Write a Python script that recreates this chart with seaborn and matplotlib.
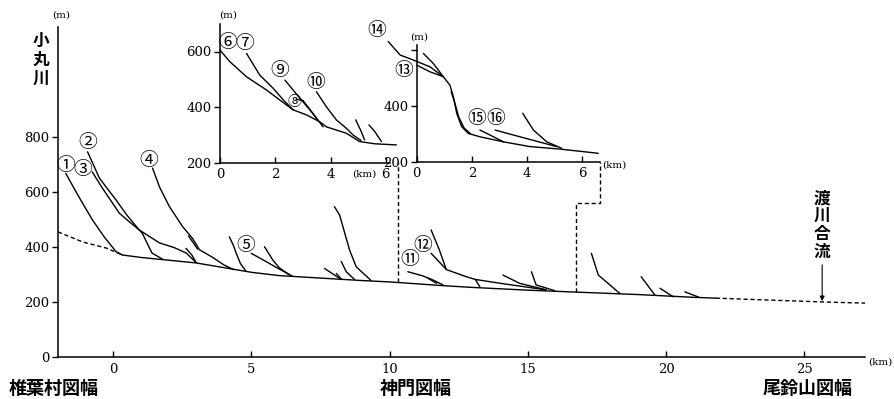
import matplotlib
matplotlib.use("Agg")
import matplotlib.pyplot as plt
import seaborn as sns

# ---------------- data (km, m) ----------------
# main stream 小丸川
main_km = [0.33, 1, 2, 3, 4, 5, 6, 7, 8, 9, 10, 11, 12, 13, 14, 15, 16, 17, 18, 19, 20, 21, 21.8]
main_m = [371, 362, 352, 342, 325, 308, 296, 290, 284, 278, 273, 266, 259, 253, 248, 243, 239, 235, 231, 227, 222, 217, 214]
upper_km = [-2, -1.1, -0.25, 0.33]
upper_m = [455, 418, 396, 371]
lower_km = [21.8, 25.7, 27.2]
lower_m = [214, 200, 196]

# tributaries on main chart
t1_km = [-1.72, -1.4, -1.11, -0.75, -0.33, 0.1, 0.33]
t1_m = [668, 610, 559, 498, 437, 383, 371]
t2_km = [-0.93, -0.5, 0.1, 0.5, 0.94, 1.05, 1.4, 1.78]
t2_m = [746, 650, 571, 515, 462, 450, 378, 356]
t3_km = [-0.76, -0.4, 0.22, 0.6, 0.94, 1.67, 2.2, 2.64, 3.0]
t3_m = [673, 615, 523, 490, 462, 415, 398, 378, 343]
t4_km = [1.42, 1.67, 2.03, 2.51, 2.87, 3.12, 3.6, 4.0, 4.35]
t4_m = [687, 619, 547, 474, 431, 390, 362, 335, 318]
s1_km = [2.63, 2.85, 3.0]
s1_m = [395, 370, 343]
s2_km = [2.72, 2.9, 3.05]
s2_m = [440, 415, 392]
t5a_km = [4.2, 4.35, 4.45, 4.6, 4.8]
t5a_m = [437, 405, 377, 340, 312]
t5_km = [4.99, 5.53, 6.0, 6.5]
t5_m = [377, 347, 320, 293]
t5b_km = [5.47, 5.77, 6.0, 6.38]
t5b_m = [401, 353, 325, 298]
t6_km = [8.0, 8.19, 8.55, 8.79, 9.33]
t6_m = [547, 516, 389, 328, 278]
s3_km = [7.64, 8.25]
s3_m = [322, 282]
s4_km = [8.25, 8.43, 8.73]
s4_m = [347, 310, 282]
s5_km = [8.07, 8.25]
s5_m = [304, 283]
t11_km = [10.66, 11.2, 11.57, 11.93]
t11_m = [310, 295, 280, 262]
s6_km = [11.39, 11.7]
s6_m = [286, 268]
t12a_km = [11.5, 11.8, 12.05]
t12a_m = [462, 389, 318]
t12_km = [11.5, 11.8, 12.05, 12.77, 13.1, 14.0, 14.7, 15.67]
t12_m = [377, 345, 318, 292, 282, 268, 258, 244]
s7_km = [13.1, 13.26]
s7_m = [282, 256]
t13_km = [14.1, 14.7, 15.67]
t13_m = [298, 268, 244]
t14_km = [15.13, 15.3, 15.98]
t14_m = [310, 262, 241]
t15_km = [17.3, 17.55, 18.33]
t15_m = [377, 298, 231]
t16_km = [19.1, 19.6]
t16_m = [292, 225]
t17_km = [19.78, 20.26]
t17_m = [250, 219]
t18_km = [20.68, 21.2]
t18_m = [237, 217]

# inset 1 (⑥〜⑩)
i1_main_km = [0, 0.36, 0.96, 1.69, 2.17, 2.65, 3.13, 3.61, 3.85, 4.57, 5.05, 5.6, 6.38]
i1_main_m = [605, 563, 509, 461, 425, 390, 372, 347, 329, 306, 276, 268, 264]
i1_t7_km = [0.96, 1.44, 1.92, 2.29, 2.65]
i1_t7_m = [593, 515, 468, 426, 390]
i1_t8_km = [2.75, 3.0, 3.25, 3.55]
i1_t8_m = [428, 424, 392, 352]
i1_t9_km = [2.35, 2.89, 3.25, 3.49, 3.73]
i1_t9_m = [497, 432, 390, 360, 329]
i1_t10_km = [3.49, 3.85, 4.21, 4.57, 4.81, 5.1]
i1_t10_m = [455, 401, 354, 324, 300, 280]
i1_s1_km = [4.91, 5.11, 5.23]
i1_s1_m = [354, 312, 282]
i1_s2_km = [5.39, 5.6, 5.84]
i1_s2_m = [336, 312, 276]

# inset 2 (⑬〜⑯)
i2_main_km = [0.96, 1.2, 1.33, 1.45, 1.63, 1.87, 2.29, 3.14, 4.1, 5.2, 6.58]
i2_main_m = [504, 474, 432, 373, 325, 301, 289, 271, 254, 245, 230]
i2_t14_km = [-1.03, -0.6, -0.12, 0.48, 0.96]
i2_t14_m = [629, 581, 563, 539, 504]
i2_t13_km = [0, 0.48, 0.96]
i2_t13_m = [545, 521, 504]
i2_t0_km = [0.24, 0.6, 0.96]
i2_t0_m = [587, 551, 504]
i2_d_km = [1.25, 1.38, 1.52, 1.72, 1.95]
i2_d_m = [450, 410, 360, 320, 300]
i2_t15_km = [2.29, 2.66, 3.14]
i2_t15_m = [313, 295, 271]
i2_t16_km = [2.84, 3.74, 5.07]
i2_t16_m = [313, 289, 254]
i2_s1_km = [3.84, 4.23, 4.71, 5.25]
i2_s1_m = [373, 313, 271, 248]

# connector lines to insets
conn1_km = [10.3, 10.3]
conn1_m = [273, 709]
conn2_km = [16.74, 16.74, 17.62, 17.62]
conn2_m = [236, 560, 560, 709]

main_xticks = [0, 5, 10, 15, 20, 25]
main_yticks = [0, 200, 400, 600, 800]
inset_xticks = [0, 2, 4, 6]
inset_yticks = [200, 400, 600]

# ---------------- style ----------------
sns.set_style("ticks")
plt.rcParams["font.family"] = ["DejaVu Serif"]
JP = ["Noto Sans CJK JP", "DejaVu Sans"]

W, H = 894, 399
fig = plt.figure(figsize=(W / 100, H / 100), dpi=100)


def fx(px):
    return px / W


def fy(py):
    return 1 - py / H


LW = 1.0
DASH = (0, (3, 2))


def draw(ax, xs, ys, ls="-", clip=True):
    sns.lineplot(x=xs, y=ys, ax=ax, sort=False, estimator=None, color="black",
                 lw=LW, linestyle=ls, clip_on=clip)


def style_axes(ax):
    for s in ["top", "right"]:
        ax.spines[s].set_visible(False)
    for s in ["left", "bottom"]:
        ax.spines[s].set_linewidth(1.1)
        ax.spines[s].set_color("black")
    ax.set_facecolor("none")
    ax.tick_params(axis="y", direction="out", length=4, width=1, pad=2, labelsize=9.5, colors="black")
    ax.tick_params(axis="x", direction="in", length=4, width=1, pad=4, labelsize=9.5, colors="black")
    ax.set_xlabel("")
    ax.set_ylabel("")


# ---------------- main axes ----------------
ax = fig.add_axes([fx(58), fy(357), (865 - 58) / W, (357 - 27) / H])
draw(ax, main_km, main_m)
draw(ax, upper_km, upper_m, DASH)
draw(ax, lower_km, lower_m, DASH)
for xs, ys in [(t1_km, t1_m), (t2_km, t2_m), (t3_km, t3_m), (t4_km, t4_m),
               (s1_km, s1_m), (s2_km, s2_m), (t5a_km, t5a_m), (t5_km, t5_m),
               (t5b_km, t5b_m), (t6_km, t6_m), (s3_km, s3_m), (s4_km, s4_m),
               (s5_km, s5_m), (t11_km, t11_m), (s6_km, s6_m), (t12a_km, t12a_m),
               (t12_km, t12_m), (s7_km, s7_m), (t13_km, t13_m), (t14_km, t14_m),
               (t15_km, t15_m), (t16_km, t16_m), (t17_km, t17_m), (t18_km, t18_m)]:
    draw(ax, xs, ys)
draw(ax, conn1_km, conn1_m, DASH)
draw(ax, conn2_km, conn2_m, DASH)
ax.set_xlim(-2, 27.2)
ax.set_ylim(0, 1200)
ax.set_xticks(main_xticks)
ax.set_yticks(main_yticks)
style_axes(ax)

CFS = 13.5
circ = dict(family=JP, ha="center", va="center", fontsize=CFS, color="black")
for lab, x, y in [("①", -1.72, 698), ("②", -0.93, 779), ("③", -1.11, 680),
                  ("④", 1.3, 716), ("⑤", 4.81, 407), ("⑪", 10.72, 353), ("⑫", 11.2, 407)]:
    ax.text(x, y, lab, **circ)

ax.annotate("", xy=(25.65, 203), xytext=(25.65, 335),
            arrowprops=dict(arrowstyle="-|>", lw=0.8, color="black", mutation_scale=7,
                            shrinkA=0, shrinkB=0))

# ---------------- inset 1 ----------------
a1 = fig.add_axes([fx(220), fy(162.7), 6.45 * 27.64 / W, 500 * 0.278 / H])
for xs, ys in [(i1_main_km, i1_main_m), (i1_t7_km, i1_t7_m), (i1_t8_km, i1_t8_m),
               (i1_t9_km, i1_t9_m), (i1_t10_km, i1_t10_m), (i1_s1_km, i1_s1_m),
               (i1_s2_km, i1_s2_m)]:
    draw(a1, xs, ys, clip=False)
a1.set_xlim(0, 6.45)
a1.set_ylim(200, 700)
a1.set_xticks(inset_xticks)
a1.set_yticks(inset_yticks)
style_axes(a1)
a1.spines["bottom"].set_bounds(0, 6.15)
for lab, x, y, fs in [("⑥", 0.29, 634, CFS), ("⑦", 0.9, 627, CFS), ("⑨", 2.17, 533, CFS),
                      ("⑩", 3.47, 487, CFS), ("⑧", 2.71, 418, 10)]:
    a1.text(x, y, lab, family=JP, ha="center", va="center", fontsize=fs, color="black")

# ---------------- inset 2 ----------------
a2 = fig.add_axes([fx(416.7), fy(161.7), 6.65 * 27.6 / W, 415 * 0.28 / H])
for xs, ys in [(i2_main_km, i2_main_m), (i2_t14_km, i2_t14_m), (i2_t13_km, i2_t13_m),
               (i2_t0_km, i2_t0_m), (i2_d_km, i2_d_m), (i2_t15_km, i2_t15_m),
               (i2_t16_km, i2_t16_m), (i2_s1_km, i2_s1_m)]:
    draw(a2, xs, ys, clip=False)
a2.set_xlim(0, 6.65)
a2.set_ylim(200, 615)
a2.set_xticks(inset_xticks)
a2.set_yticks(inset_yticks)
a2.set_yticklabels(["200", "400", ""])
style_axes(a2)
for lab, x, y in [("⑬", -0.48, 525), ("⑭", -1.45, 670), ("⑮", 2.17, 355), ("⑯", 2.87, 356)]:
    a2.text(x, y, lab, family=JP, ha="center", va="center", fontsize=CFS, color="black",
            clip_on=False)

# ---------------- unit labels ----------------
unit = dict(fontsize=7.5, ha="center", va="center", color="black")
fig.text(fx(61), fy(15), "(m)", **unit)
fig.text(fx(228), fy(15), "(m)", **unit)
fig.text(fx(419), fy(37), "(m)", **unit)
fig.text(fx(880), fy(362), "(km)", **unit)
fig.text(fx(364), fy(174), "(km)", **unit)
fig.text(fx(614), fy(165), "(km)", **unit)

# ---------------- Japanese labels ----------------
jp = dict(family=JP, fontweight="bold", ha="center", va="center", color="black")
fig.text(fx(41), fy(60), "小\n丸\n川", fontsize=12, linespacing=1.05, **jp)
fig.text(fx(822), fy(225), "渡\n川\n合\n流", fontsize=12, linespacing=1.0, **jp)
fig.text(fx(54), fy(388), "椎葉村図幅", fontsize=13, **jp)
fig.text(fx(416), fy(388), "神門図幅", fontsize=13, **jp)
fig.text(fx(808), fy(388), "尾鈴山図幅", fontsize=13, **jp)

fig.savefig("out.png", dpi=100, facecolor="white")
